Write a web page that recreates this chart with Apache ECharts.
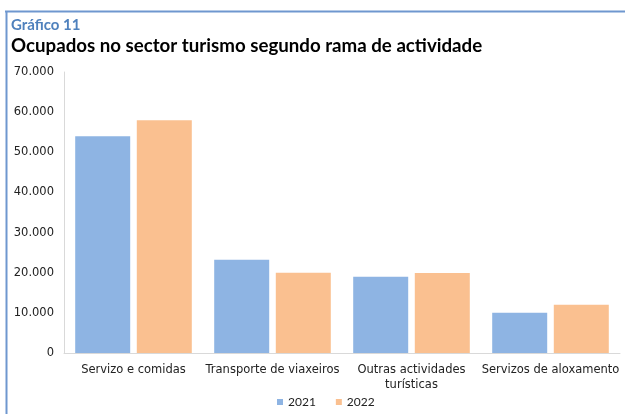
<!DOCTYPE html>
<html>
<head>
<meta charset="utf-8">
<script src="https://cdn.jsdelivr.net/npm/echarts@6/dist/echarts.min.js"></script>
</head>
<body style="margin:0;background:#fff">
<div id="container" style="width:625px;height:414px"></div>
<script>
var categories = ['Servizo e comidas', 'Transporte de viaxeiros', 'Outras actividades\nturísticas', 'Servizos de aloxamento'];
var years = ['2021', '2022'];
var values2021 = [54000, 23200, 19000, 10000];
var values2022 = [58000, 20000, 19900, 12000];
var yTicks = [0, 10000, 20000, 30000, 40000, 50000, 60000, 70000];

var chart = echarts.init(document.getElementById('container'));
var font = 'Lato, "Open Sans", sans-serif';
var labelFont = '"DejaVu Sans", sans-serif';

function fmt(v) {
  return String(v).replace(/\B(?=(\d{3})+(?!\d))/g, '.');
}

var option = {
  animation: false,
  textStyle: { fontFamily: font },
  graphic: [
    { type: 'line', shape: { x1: 5, y1: 11.5, x2: 625, y2: 11.5 }, style: { stroke: '#6f97cf', lineWidth: 2 } },
    { type: 'line', shape: { x1: 6.5, y1: 11, x2: 6.5, y2: 414 }, style: { stroke: '#6f97cf', lineWidth: 2 } },
    { type: 'text', left: 11, top: 18, style: { text: 'Gráfico 11', font: 'bold 15px ' + font, fill: '#4f81bd' } },
    { type: 'text', left: 11, top: 36, style: { text: 'Ocupados no sector turismo segundo rama de actividade', font: 'bold 18.7px ' + font, fill: '#000' } }
  ],
  grid: { left: 64, right: 5, top: 72, bottom: 61 },
  legend: {
    data: years,
    bottom: 1,
    left: 272,
    itemWidth: 6,
    itemHeight: 6,
    itemGap: 20,
    icon: 'rect',
    textStyle: { fontSize: 12, color: '#222', fontFamily: font }
  },
  xAxis: {
    type: 'category',
    data: categories,
    axisLine: { lineStyle: { color: '#d9d9d9' } },
    axisTick: { show: false },
    axisLabel: { color: '#222', fontSize: 11.5, margin: 10, interval: 0, lineHeight: 15, fontFamily: labelFont }
  },
  yAxis: {
    type: 'value',
    min: yTicks[0],
    max: yTicks[yTicks.length - 1],
    interval: 10000,
    axisLine: { show: true, lineStyle: { color: '#d9d9d9' } },
    axisTick: { show: false },
    splitLine: { show: false },
    axisLabel: { color: '#222', fontSize: 11.5, margin: 10, formatter: fmt, fontFamily: labelFont }
  },
  series: [
    { name: years[0], type: 'bar', data: values2021, barWidth: 55, barGap: '12%', itemStyle: { color: '#8eb4e3' } },
    { name: years[1], type: 'bar', data: values2022, barWidth: 55, barGap: '12%', itemStyle: { color: '#fac090' } }
  ]
};
chart.setOption(option);
</script>
</body>
</html>
